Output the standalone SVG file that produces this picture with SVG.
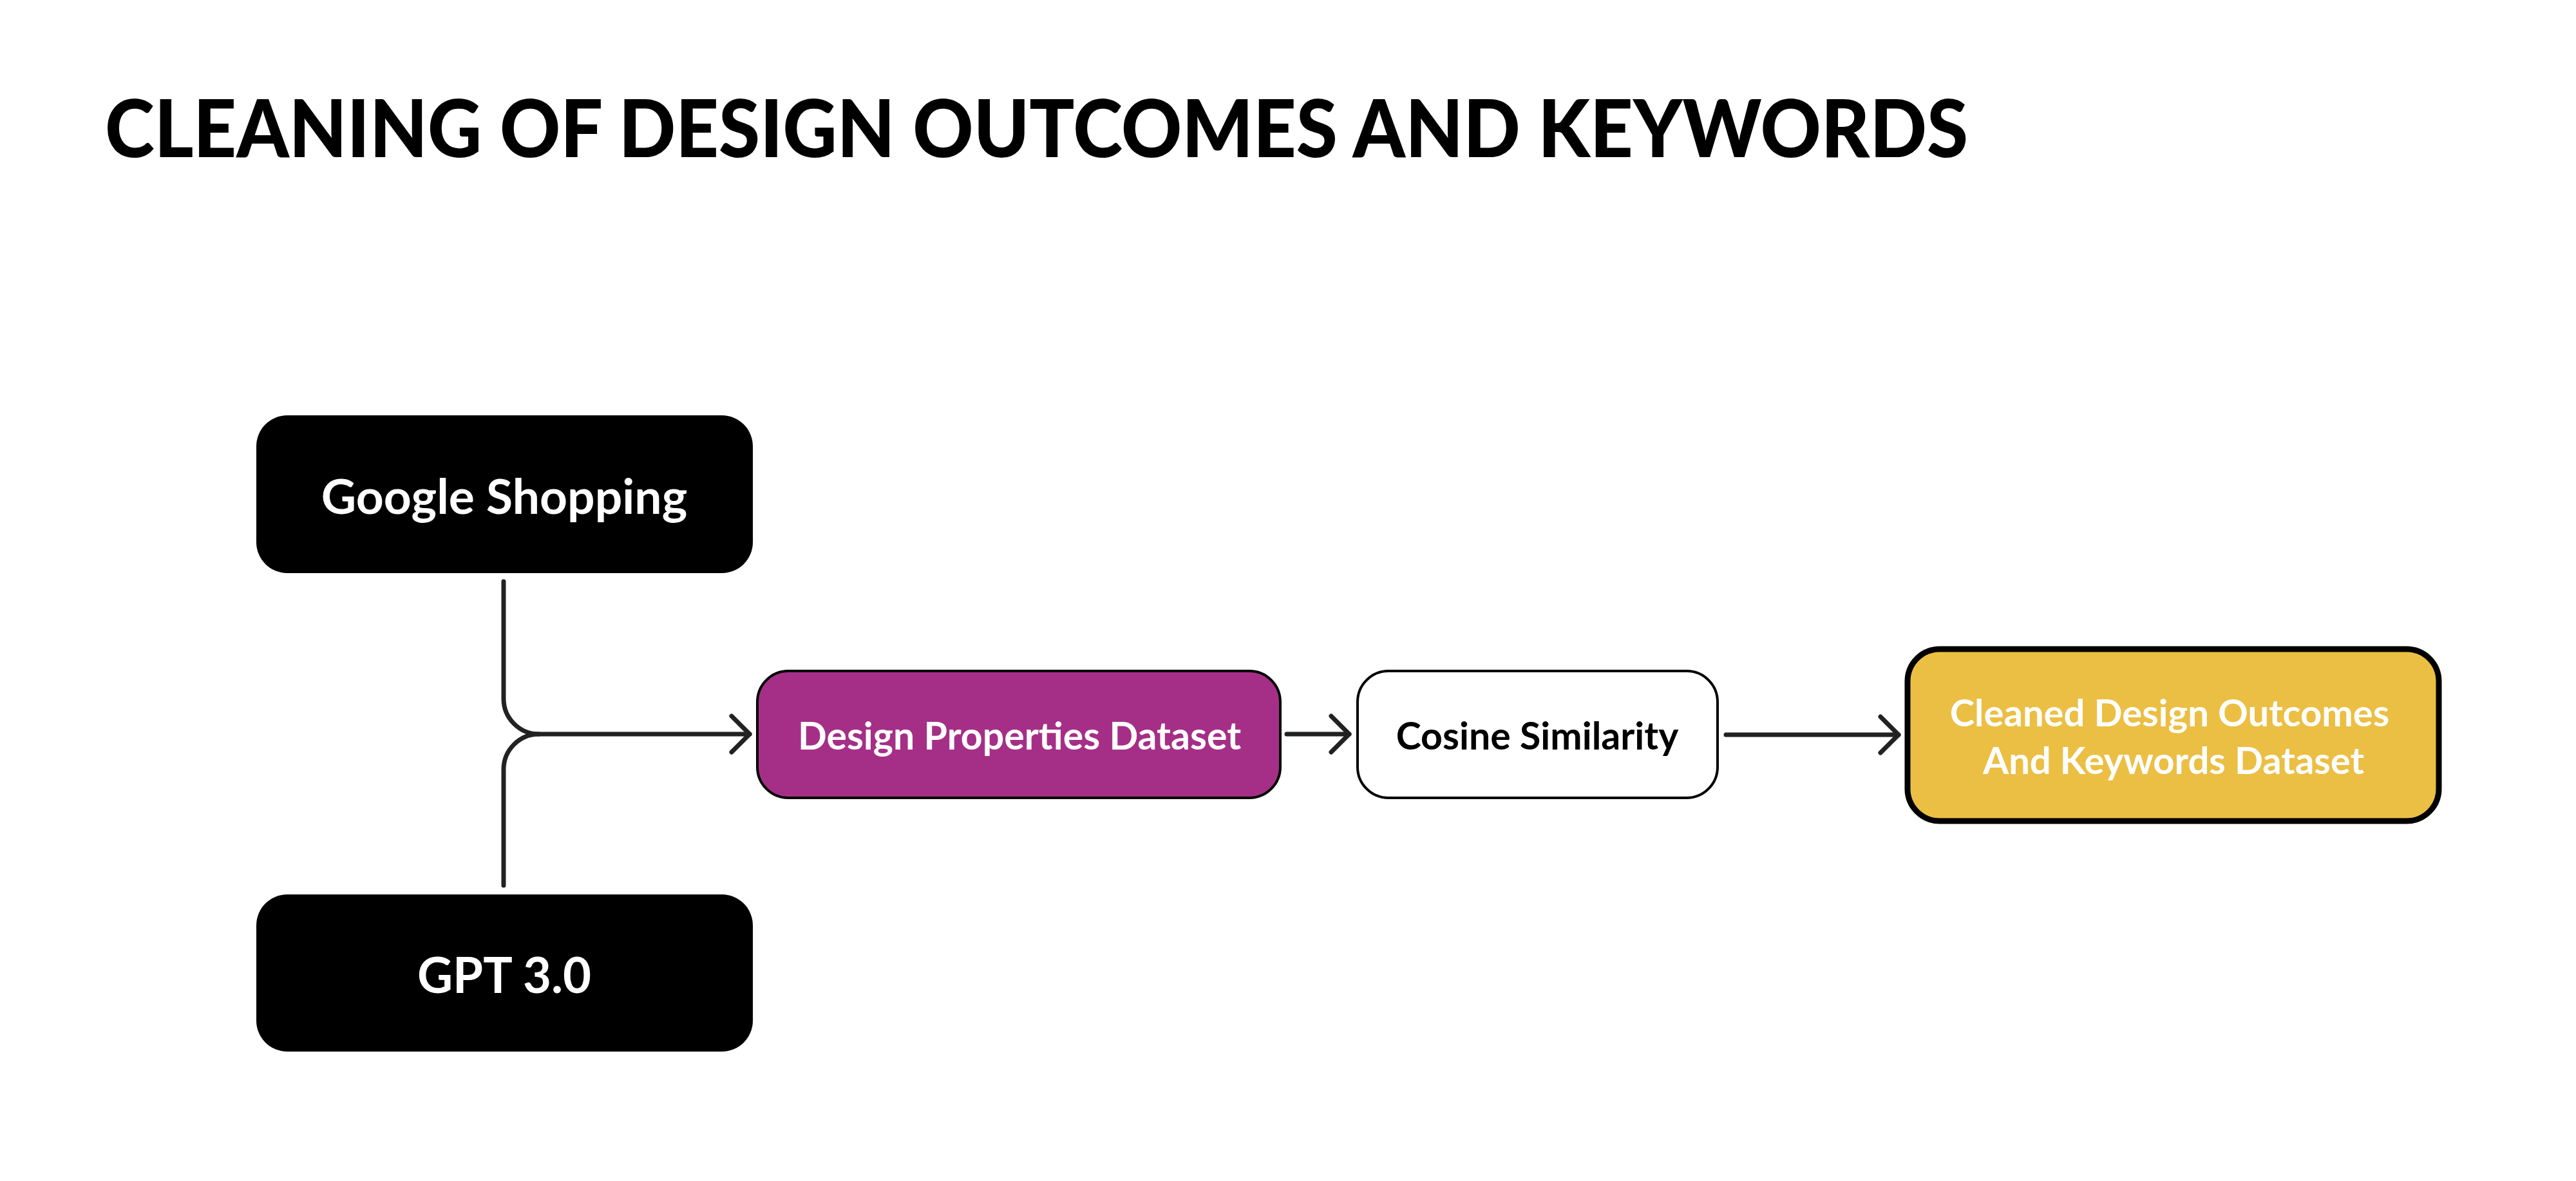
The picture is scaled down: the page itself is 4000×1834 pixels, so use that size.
<svg xmlns="http://www.w3.org/2000/svg" width="4000" height="1834" viewBox="0 0 4000 1834">
<style>
.t{font-family:Lato,"Liberation Sans",sans-serif;font-weight:700;text-anchor:middle}
.w{fill:#ffffff}
.k{fill:#000000}
.c{fill:none;stroke:#222222;stroke-width:7;stroke-linecap:round;stroke-linejoin:round}
</style>
<defs>
<marker id="ah" viewBox="-5 -5 40 66" markerWidth="40" markerHeight="66" refX="28" refY="28" orient="auto" markerUnits="userSpaceOnUse">
<path d="M0,0 L28,28 L0,56" fill="none" stroke="#222222" stroke-width="7" stroke-linecap="round" stroke-linejoin="round"/>
</marker>
</defs>
<rect width="4000" height="1834" fill="#ffffff"/>
<text x="163" y="244" textLength="2893" lengthAdjust="spacingAndGlyphs" style="font-family:Lato,'Liberation Sans',sans-serif;font-weight:900;font-size:124px" fill="#000000">CLEANING OF DESIGN OUTCOMES AND KEYWORDS</text>
<g id="connectors">
<path class="c" d="M782,903 V1085 A55,55 0 0 0 837,1140 H1164" marker-end="url(#ah)"/>
<path class="c" d="M782,1375 V1195 A55,55 0 0 1 837,1140"/>
<path class="c" d="M1998,1140 H2095" marker-end="url(#ah)"/>
<path class="c" d="M2680,1141 H2948" marker-end="url(#ah)"/>
</g>
<g id="google-shopping">
<rect x="398" y="645" width="771" height="245" rx="48" ry="48" fill="#000000"/>
<text class="t w" x="783" y="798" font-size="75">Google Shopping</text>
</g>
<g id="gpt3">
<rect x="398" y="1389" width="771" height="244" rx="48" ry="48" fill="#000000"/>
<text class="t w" x="783" y="1542" font-size="76">GPT 3.0</text>
</g>
<g id="design-properties">
<rect x="1176" y="1042" width="812" height="197" rx="48" ry="48" fill="#A52F87" stroke="#000000" stroke-width="4"/>
<text class="t w" x="1583" y="1164" font-size="59">Design Properties Dataset</text>
</g>
<g id="cosine-similarity">
<rect x="2108" y="1042" width="559" height="197" rx="48" ry="48" fill="#ffffff" stroke="#000000" stroke-width="4"/>
<text class="t k" x="2387" y="1164" font-size="59">Cosine Similarity</text>
</g>
<g id="cleaned-dataset">
<rect x="2962" y="1008" width="825" height="267" rx="50" ry="50" fill="#EBBF43" stroke="#000000" stroke-width="9"/>
<text class="t w" x="3369" y="1128" font-size="58">Cleaned Design Outcomes</text>
<text class="t w" x="3375" y="1202" font-size="58">And Keywords Dataset</text>
</g>
</svg>
